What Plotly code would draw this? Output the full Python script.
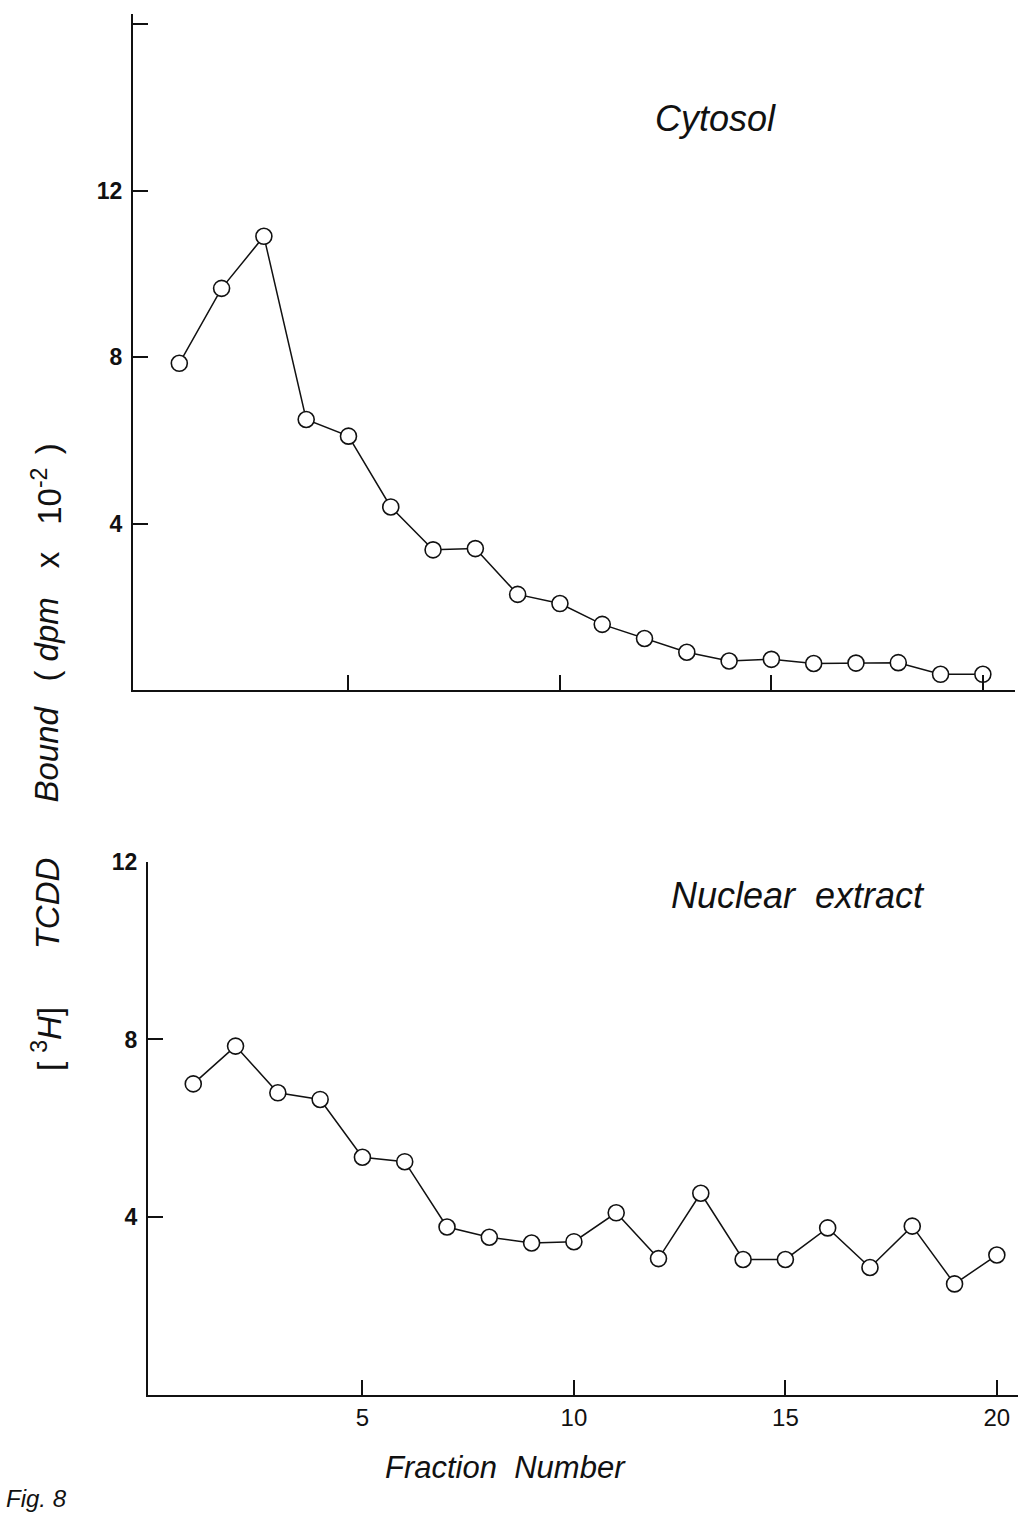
import plotly.graph_objects as go

# Fraction numbers from the gradient
fractions = list(range(1, 21))

# Bound [3H]TCDD (dpm x 10^-2) per fraction
cytosol = [7.85, 9.65, 10.9, 6.5, 6.1, 4.4, 3.37, 3.4, 2.3, 2.08,
           1.58, 1.24, 0.91, 0.7, 0.74, 0.64, 0.65, 0.66, 0.38, 0.38]
nuclear = [7.0, 7.85, 6.8, 6.65, 5.35, 5.25, 3.78, 3.55, 3.42, 3.45,
           4.1, 3.07, 4.54, 3.05, 3.05, 3.76, 2.87, 3.8, 2.5, 3.15]

y_ticks_top = [4, 8, 12, 16]
y_ticklabels_top = ["4", "8", "12", " "]
y_ticks_bottom = [4, 8, 12]
y_ticklabels_bottom = ["4", "8", "12"]
x_ticks = [5, 10, 15, 20]
x_ticklabels = ["5", "10", "15", "20"]

# pieces of the shared vertical axis title, bottom to top
y_title_parts = ["[\u00a0<sup>3</sup><i>H</i>]", "<i>TCDD</i>", "<i>Bound</i>",
                 "(\u00a0<i>dpm</i>", "x", "10<sup>-2</sup>", ")"]

W, H = 1020, 1515
INK = "#111111"
SANS = "Liberation Sans, Arial, Helvetica, sans-serif"
NARROW = "Liberation Sans Narrow, Arial Narrow, Liberation Sans, sans-serif"
NB = "\u00a0"


def px_x(p):
    return p / W


def px_y(p):
    return 1 - p / H


fig = go.Figure()

marker = dict(symbol="circle", size=16, color="white",
              line=dict(color=INK, width=1.6))
line = dict(color=INK, width=1.5)

fig.add_trace(go.Scatter(x=fractions, y=cytosol, mode="lines+markers",
                         marker=marker, line=line, xaxis="x", yaxis="y",
                         showlegend=False))
fig.add_trace(go.Scatter(x=fractions, y=nuclear, mode="lines+markers",
                         marker=marker, line=line, xaxis="x2", yaxis="y2",
                         showlegend=False))

axis_common = dict(showgrid=False, zeroline=False, showline=True,
                   linecolor=INK, linewidth=2, ticks="inside",
                   tickcolor=INK, tickwidth=2, ticklen=15)
ytick_font = dict(family=SANS, size=23, color=INK, weight="bold")

# upper panel: cytosol
fig.update_layout(
    xaxis=dict(domain=[px_x(133), px_x(1015)], range=[-0.095, 20.76],
               anchor="y", tickvals=x_ticks, showticklabels=False,
               **axis_common),
    yaxis=dict(domain=[px_y(683), px_y(1)], range=[0, 16.24],
               anchor="x", tickvals=y_ticks_top, ticktext=y_ticklabels_top,
               tickfont=ytick_font, ticklabelstandoff=4, **axis_common),
    # lower panel: nuclear extract
    xaxis2=dict(domain=[px_x(148), px_x(1018)], range=[-0.07, 20.5],
                anchor="y2", tickvals=x_ticks, ticktext=x_ticklabels,
                tickfont=dict(family=NARROW, size=24, color=INK),
                ticklabelstandoff=0, **axis_common),
    yaxis2=dict(domain=[px_y(1394), px_y(856)], range=[0, 12],
                anchor="x2", tickvals=y_ticks_bottom,
                ticktext=y_ticklabels_bottom,
                tickfont=ytick_font, ticklabelstandoff=4, **axis_common),
)

annotations = [
    dict(text="<i>Cytosol</i>", x=px_x(715), y=px_y(106),
         font=dict(family=SANS, size=36, color=INK)),
    dict(text="<i>Nuclear" + NB * 2 + "extract</i>", x=px_x(798), y=px_y(890),
         font=dict(family=SANS, size=36, color=INK)),
    dict(text="<i>Fraction" + NB * 2 + "Number</i>", x=px_x(505), y=px_y(1467),
         font=dict(family=NARROW, size=31, color=INK)),
    dict(text="<i>Fig. 8</i>", x=px_x(4), y=px_y(1514), xanchor="left",
         yanchor="bottom", font=dict(family=NARROW, size=24, color=INK)),
]

# vertical axis title, placed piece by piece along the left margin
title_centres = [1035, 898, 748, 632, 552, 488, 440]
for part, cy in zip(y_title_parts, title_centres):
    annotations.append(dict(text=part, x=px_x(47), y=px_y(cy), textangle=-90,
                            font=dict(family=SANS, size=33, color=INK)))

for a in annotations:
    a.setdefault("xanchor", "center")
    a.setdefault("yanchor", "middle")
    a.update(xref="paper", yref="paper", showarrow=False)

fig.update_layout(
    width=W, height=H,
    margin=dict(l=0, r=0, t=0, b=0),
    paper_bgcolor="white", plot_bgcolor="white",
    annotations=annotations,
)

fig.write_html("out.html")
